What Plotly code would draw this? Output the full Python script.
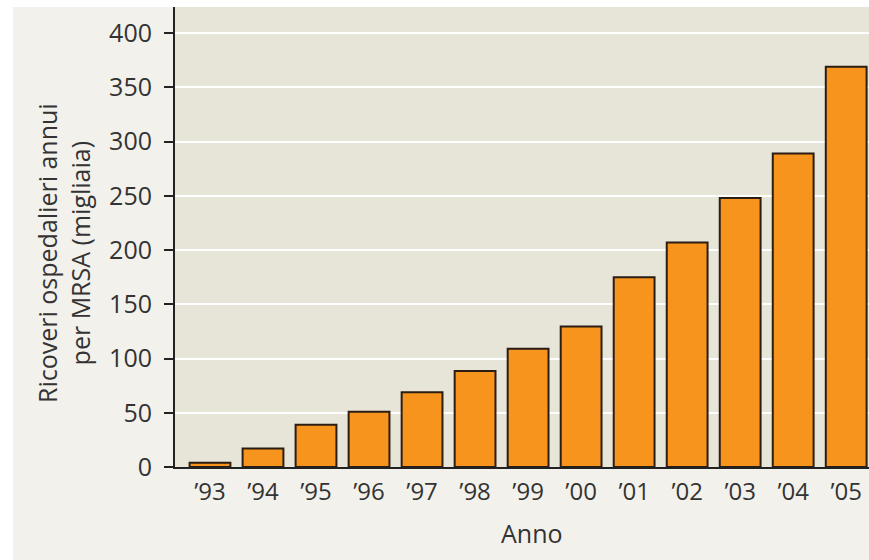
import plotly.graph_objects as go

years = ["\u201993", "\u201994", "\u201995", "\u201996", "\u201997", "\u201998", "\u201999",
         "\u201900", "\u201901", "\u201902", "\u201903", "\u201904", "\u201905"]
admissions = [4, 17, 39, 51, 69, 88.5, 109, 129.5, 175, 207, 248, 289, 369]
y_ticks = [0, 50, 100, 150, 200, 250, 300, 350, 400]

FONT = "Open Sans"
TXT = "#333333"

W, H = 869, 560
L, R, T, B = 175, 0, 7, 93
pw, ph = W - L - R, H - T - B

def px_x(p):
    return (p - L) / pw

def px_y(p):
    return (H - B - p) / ph

fig = go.Figure()
fig.add_trace(go.Bar(
    x=years, y=admissions,
    marker=dict(color="#f7941d", line=dict(color="#2b1d14", width=2)),
    width=0.77,
))

fig.update_layout(
    width=W, height=H,
    margin=dict(l=L, r=R, t=T, b=B),
    paper_bgcolor="#f3f1ec",
    plot_bgcolor="#e7e5d8",
    showlegend=False,
    font=dict(family=FONT, color=TXT),
    xaxis=dict(
        type="category",
        range=[-0.66, 12.43],
        showline=True, linecolor="#222222", linewidth=2,
        ticks="", showgrid=False,
        tickfont=dict(size=24, family=FONT, color=TXT),
        ticklabelstandoff=2,
    ),
    yaxis=dict(
        range=[0, 424],
        tickvals=y_ticks,
        showline=True, linecolor="#222222", linewidth=2,
        ticks="outside", ticklen=9, tickwidth=2, tickcolor="#222222",
        showgrid=True, gridcolor="#ffffff", gridwidth=2,
        zeroline=False,
        tickfont=dict(size=25, family=FONT, color=TXT),
        ticklabelstandoff=7,
    ),
    shapes=[
        dict(type="rect", xref="paper", yref="paper",
             x0=px_x(-5), x1=px_x(13), y0=px_y(570), y1=px_y(-5),
             fillcolor="#ffffff", line=dict(width=0), layer="above"),
        dict(type="rect", xref="paper", yref="paper",
             x0=px_x(-5), x1=px_x(880), y0=px_y(7), y1=px_y(-5),
             fillcolor="#ffffff", line=dict(width=0), layer="above"),
    ],
    annotations=[
        dict(text="Ricoveri ospedalieri annui<br>per MRSA (migliaia)",
             xref="paper", yref="paper", x=px_x(63), y=px_y(253),
             xanchor="center", yanchor="middle", textangle=-90,
             showarrow=False, font=dict(size=25, family=FONT, color=TXT)),
        dict(text="Anno", xref="paper", yref="paper", x=px_x(532), y=px_y(533),
             xanchor="center", yanchor="middle", showarrow=False,
             font=dict(size=25, family=FONT, color=TXT)),
    ],
)

fig.write_html("out.html", config={"displayModeBar": False},
               post_script="document.body.style.margin='0';document.body.style.overflow='hidden';")
